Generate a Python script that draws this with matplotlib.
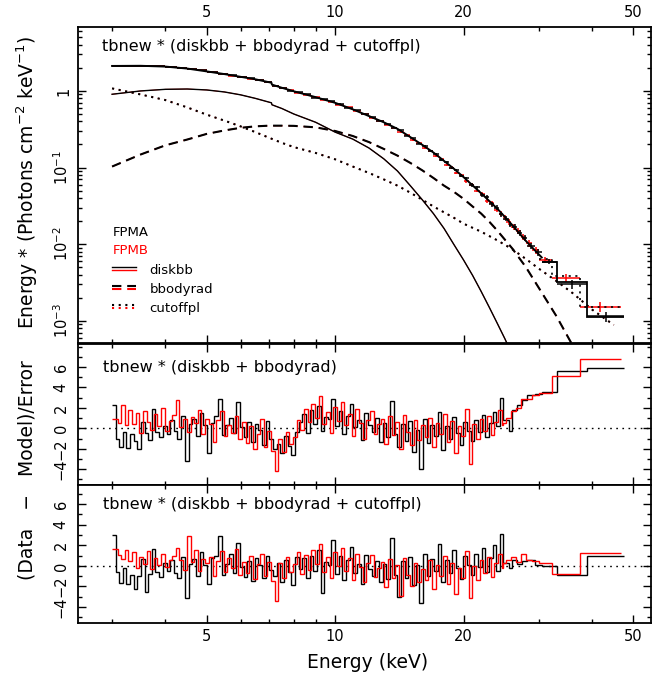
import matplotlib
matplotlib.use('Agg')
import matplotlib.pyplot as plt
import numpy as np
from matplotlib.ticker import FixedLocator, FixedFormatter, NullFormatter, LogLocator

plt.rcParams['font.family'] = ['DejaVu Sans']
plt.rcParams['mathtext.fontset'] = 'dejavusans'
plt.rcParams['lines.scale_dashes'] = False

# ---------------- axis ticks ----------------
x_major = [5, 10, 20, 50]
x_major_labels = ['5', '10', '20', '50']
x_minor = [3, 4, 6, 7, 8, 9, 30, 40]
spec_major = [1e-3, 1e-2, 1e-1, 1]
spec_major_labels = ['10$^{-3}$', '10$^{-2}$', '10$^{-1}$', '1']
res_major = [-4, -2, 0, 2, 4, 6]
res_major_labels = ['\u22124', '\u22122', '0', '2', '4', '6']
res_minor = [-5, -3, -1, 1, 3, 5, 7, 8]

# ---------------- model components (E*F) ----------------
diskbb_E = [3.0, 3.5, 4.0, 4.5, 5.0, 5.5, 6.0, 6.5, 7.09, 7.11, 7.5, 8.0, 9.0, 10, 11, 12, 13, 14, 15,
            16, 17, 18, 19, 20, 21, 22, 23, 24, 25, 26, 27]
diskbb_F = [0.905, 1.00, 1.05, 1.06, 1.03, 0.97, 0.89, 0.80, 0.70, 0.66, 0.59, 0.50, 0.39, 0.29, 0.235,
            0.18, 0.13, 0.090, 0.058, 0.038, 0.025, 0.016, 0.0098, 0.0062, 0.0039, 0.0024, 0.00148,
            0.00092, 0.00058, 0.00036, 0.00022]

bbody_E = [3.0, 3.5, 4.0, 4.5, 5.0, 5.5, 6.0, 6.5, 7.0, 7.5, 8.0, 9.0, 10, 11, 12, 13, 14, 15, 16, 17,
           18, 19, 20, 21, 22, 23, 24, 26, 28, 30, 33, 36, 38]
bbody_F = [0.103, 0.148, 0.195, 0.232, 0.275, 0.305, 0.33, 0.345, 0.352, 0.352, 0.35, 0.335, 0.30,
           0.258, 0.215, 0.175, 0.143, 0.115, 0.092, 0.073, 0.058, 0.048, 0.039, 0.031, 0.025, 0.0195,
           0.015, 0.0088, 0.0050, 0.0027, 0.00115, 0.00048, 0.00026]

cutoff_E = [3.0, 3.5, 4.0, 4.5, 5.0, 5.5, 6.0, 6.5, 7.0, 7.5, 8.0, 9.0, 10, 11, 12, 13, 14, 15, 16, 17,
            18, 19, 20, 22, 24, 26, 28, 30, 33, 36, 40, 45]
cutoff_F = [1.08, 0.90, 0.76, 0.61, 0.49, 0.41, 0.345, 0.29, 0.245, 0.21, 0.185, 0.155, 0.128, 0.103,
            0.085, 0.070, 0.058, 0.047, 0.038, 0.031, 0.026, 0.022, 0.0185, 0.0145, 0.0112, 0.0086,
            0.0064, 0.0048, 0.0033, 0.0023, 0.0014, 0.00088]

total_E = [3.0, 3.5, 4.0, 4.5, 5.0, 5.5, 6.0, 6.5, 7.09, 7.11, 7.5, 8.0, 9.0, 10, 11, 12, 13, 14, 15,
           16, 17, 18, 19, 20, 22, 24, 26, 28, 30.5]
total_F = [2.12, 2.13, 2.08, 1.96, 1.80, 1.66, 1.53, 1.42, 1.28, 1.21, 1.10, 0.99, 0.83, 0.70, 0.575,
           0.47, 0.39, 0.32, 0.25, 0.198, 0.157, 0.122, 0.096, 0.075, 0.046, 0.029, 0.0178, 0.0110, 0.0067]

# folded model in the widest high-energy bins
modelA_step_edges = [30.5, 33.1, 38.9, 47.6]
modelA_step_F = [0.0059, 0.0032, 0.00112]
modelB_step_edges = [30.0, 32.2, 37.5, 46.7]
modelB_step_F = [0.0063, 0.0038, 0.0015]

# ---------------- unfolded spectra (top panel) ----------------
spec_edges_low = [3.0, 3.2, 3.4, 3.6, 3.8, 4.0, 4.25, 4.5, 4.75, 5.0, 5.3, 5.6, 5.9, 6.2, 6.5, 6.8, 7.1,
                  7.4, 7.7, 8.0, 8.4, 8.8, 9.2, 9.6, 10.0, 10.5, 11.0, 11.5, 12.0, 12.5, 13.0, 13.5,
                  14.0, 14.5, 15.0, 15.5, 16.0, 16.5, 17.0, 17.5, 18.0, 18.5, 19.0, 19.5, 20.0, 20.6,
                  21.2, 21.8, 22.4, 23.0, 23.6, 24.2, 24.8]
fpma_edges_high = [25.5, 26.0, 26.7, 27.4, 28.2, 29.4, 30.5, 33.1, 38.9, 47.6]
fpmb_edges_high = [25.2, 25.9, 26.5, 27.2, 28.0, 29.0, 30.0, 32.2, 37.5, 46.7]

fpma_flux = [2.13, 2.11, 2.14, 2.11, 2.11,
             2.05, 2.01, 1.92, 1.87,
             1.75, 1.68, 1.61, 1.51, 1.46, 1.38, 1.32, 1.16, 1.10, 1.01,
             0.97, 0.90, 0.82, 0.79, 0.73,
             0.68, 0.60, 0.56, 0.495, 0.455, 0.405, 0.375, 0.33, 0.305, 0.26, 0.24, 0.205, 0.19,
             0.163, 0.15, 0.127, 0.118, 0.099, 0.093, 0.078,
             0.072, 0.059, 0.055, 0.044, 0.041, 0.033, 0.030, 0.0245,
             0.0215, 0.018, 0.0168, 0.0140, 0.0120, 0.0095, 0.0078, 0.0059, 0.0030, 0.00114]
fpmb_flux = [2.10, 2.13, 2.12, 2.13, 2.09,
             2.07, 1.99, 1.94, 1.85,
             1.77, 1.66, 1.59, 1.53, 1.44, 1.40, 1.30, 1.15, 1.08, 1.03,
             0.95, 0.89, 0.84, 0.77, 0.72,
             0.665, 0.615, 0.54, 0.505, 0.44, 0.41, 0.36, 0.33, 0.29, 0.262, 0.228, 0.208, 0.18,
             0.165, 0.14, 0.128, 0.109, 0.100, 0.085, 0.079,
             0.066, 0.060, 0.050, 0.045, 0.037, 0.034, 0.028, 0.025,
             0.0225, 0.0195, 0.0168, 0.0147, 0.0125, 0.0103, 0.0083, 0.0062, 0.00365, 0.00152]
flux_frac_err = [0.004, 0.004, 0.004, 0.004, 0.004, 0.004, 0.004, 0.004, 0.004, 0.005, 0.005, 0.005,
                 0.005, 0.005, 0.005, 0.005, 0.006, 0.006, 0.006, 0.006, 0.007, 0.007, 0.007, 0.008,
                 0.009, 0.010, 0.011, 0.012, 0.013, 0.014, 0.015, 0.016, 0.018, 0.019,
                 0.021, 0.023, 0.025, 0.027, 0.029, 0.031, 0.034, 0.037, 0.040, 0.043,
                 0.046, 0.049, 0.052, 0.056, 0.060, 0.064, 0.068, 0.072,
                 0.07, 0.08, 0.08, 0.09, 0.09, 0.10, 0.10, 0.08, 0.13, 0.15]

# ---------------- residuals (Data - Model)/Error ----------------
res_edges_fpma_low = [3.00, 3.06, 3.12, 3.18, 3.24, 3.30, 3.37, 3.44, 3.51, 3.58, 3.65, 3.72, 3.79, 3.87,
                      3.95, 4.03, 4.11, 4.19, 4.27, 4.36, 4.45, 4.54, 4.63, 4.72, 4.81, 4.91, 5.01, 5.11,
                      5.21, 5.31, 5.42, 5.53, 5.64, 5.75, 5.87, 5.99, 6.11, 6.23, 6.35, 6.48, 6.61, 6.74,
                      6.87, 7.01, 7.15, 7.29, 7.44, 7.59, 7.74, 7.89, 8.05, 8.21, 8.37, 8.54, 8.71, 8.88,
                      9.06, 9.24, 9.42, 9.61, 9.80, 10.00, 10.20, 10.40, 10.61, 10.82, 11.04, 11.26, 11.48,
                      11.71, 11.94, 12.18, 12.42, 12.67, 12.92, 13.18, 13.44, 13.71, 13.98, 14.26, 14.55,
                      14.84, 15.14, 15.44, 15.75, 16.06, 16.38, 16.71, 17.04, 17.38, 17.73, 18.08, 18.44,
                      18.81, 19.19, 19.57, 19.96, 20.36, 20.77, 21.19, 21.61, 22.04, 22.48, 22.93, 23.39,
                      23.86, 24.34, 24.80]
res_edges_fpmb_low = [3.00, 3.09, 3.15, 3.21, 3.27, 3.335, 3.405, 3.475, 3.545, 3.615, 3.685, 3.755, 3.83,
                      3.91, 3.99, 4.07, 4.15, 4.23, 4.315, 4.405, 4.495, 4.585, 4.675, 4.765, 4.86, 4.96,
                      5.06, 5.16, 5.26, 5.365, 5.475, 5.585, 5.695, 5.81, 5.93, 6.05, 6.17, 6.29, 6.415,
                      6.545, 6.675, 6.805, 6.94, 7.08, 7.22, 7.365, 7.515, 7.665, 7.815, 7.97, 8.13, 8.29,
                      8.455, 8.625, 8.795, 8.97, 9.15, 9.33, 9.515, 9.705, 9.90, 10.10, 10.30, 10.505,
                      10.715, 10.93, 11.15, 11.37, 11.595, 11.825, 12.06, 12.30, 12.545, 12.795, 13.05,
                      13.31, 13.575, 13.845, 14.12, 14.405, 14.695, 14.99, 15.29, 15.595, 15.905, 16.22,
                      16.545, 16.875, 17.21, 17.555, 17.905, 18.26, 18.625, 19.00, 19.38, 19.765, 20.16,
                      20.565, 20.98, 21.40, 21.825, 22.26, 22.705, 23.16, 23.625, 24.10, 24.57, 24.80]

# model: tbnew * (diskbb + bbodyrad)
res1_fpma = [2.3, -1.0, -1.8, -0.4, -1.9, -0.6, -1.2, -2.0, 0.6, -0.5, -1.1, 1.9, -0.4, -0.9, 0.2, -0.6,
             0.8, -0.3, -1.0, 1.2, -3.2, 0.4, 0.9, -0.8, 1.5, 0.3,
             -2.4, 0.5, 1.2, 2.9, -0.7, 0.3, 1.0, -0.5, 2.6, 0.1,
             -0.9, 0.6, -1.3, 0.4, -0.2, -1.6, 0.7, -1.0,
             -2.0, -1.5, -2.4, -0.8, -1.7, -2.6, -0.4,
             0.6, 1.4, -0.5, 1.8, 0.4, 2.2, -0.3, 1.1, 0.9, 2.9, 0.2,
             1.7, -0.6, 1.2, 2.4, 0.1, 0.8, -1.1, 1.5, 0.3, -0.4, 1.0,
             -1.3, 0.5, -0.9, 2.7, -0.6, -1.8, 0.4, -1.2, 0.7, -2.3, -0.2, -4.0, 0.9,
             -1.4, 0.3, -0.8, 1.6, -2.1, 0.2, -1.0, 1.1, -0.5, -1.6, 0.6, -0.3,
             -1.2, 0.8, -0.4, 1.3, -0.9, 0.5, 1.6, 0.2, 3.0,
             0.8, -0.3, 1.8, 2.3, 2.8, 3.3, 3.4, 3.6, 5.6, 5.95]
res1_fpmb = [0.9, 0.5, 2.3, 0.3, 1.8, 0.4, 1.5, -0.5, 1.7, 0.6, -0.2, 1.4, 0.2, 2.0, -0.3, 0.7,
             1.3, 2.8, 0.1, 0.9, -0.4, 1.1, 0.5, 1.8, -0.6, 0.9,
             0.4, -1.3, 0.8, 1.7, -0.8, 0.3, -0.5, 1.2, -1.0, 0.6,
             -1.4, 0.2, -2.0, -0.6, 0.9, -1.8, -0.3, -2.2,
             -4.2, -1.0, -2.3, -0.4, -1.5, -0.9, 0.8,
             -0.2, 1.9, 0.6, 2.4, 1.0, 3.2, 0.4, 1.6, -0.5, 2.1, 0.7,
             2.6, 0.3, 1.4, -0.8, 1.9, 0.5, -1.0, 0.8, 1.7, -0.6, 0.4,
             0.9, -1.5, 1.2, -0.7, 0.6, -2.0, 1.3, -0.4, -1.6, 0.8, -1.1, 0.3, -0.9,
             1.0, -1.8, 0.5, -0.6, 1.4, -1.3, 0.7, -2.4, 0.2, -0.8, 1.9, -3.5,
             0.4, -1.0, 0.9, -0.3, 1.2, -0.7, 0.6, 1.8, 0.3,
             0.5, 1.0, 1.7, 2.0, 2.9, 2.9, 3.3, 3.5, 5.1, 6.8]
# model: tbnew * (diskbb + bbodyrad + cutoffpl)
res2_fpma = [3.0, -0.6, -1.7, -0.2, -1.8, -0.9, -2.2, -1.0, 0.7, -2.5, -0.8, 1.6, -0.6, -1.1, 0.3, -0.5,
             0.6, -0.7, -1.2, 0.9, -3.1, 0.2, 0.7, -1.0, 1.3, 0.1,
             -1.8, 0.8, 1.0, 2.9, -0.9, 0.2, 1.2, -0.7, 2.2, -0.1,
             -1.1, 0.5, -1.5, 0.8, 0.1, -1.2, 1.0, -0.4,
             -1.0, 0.3, -1.6, 0.6, -0.6, -1.9, 0.9,
             -0.3, 0.8, -1.2, 1.0, -0.5, 1.5, -2.6, 0.4, 0.1, 2.5, -0.8,
             1.0, -1.4, 0.6, 1.8, -0.7, 0.2, -1.8, 1.1, -0.3, -1.0, 0.5,
             -1.6, 0.2, -1.3, 2.7, -0.9, -3.0, 0.5, -1.2, 0.9, -1.9, 0.1, -3.6, 1.2,
             -1.0, 0.7, -0.5, 2.1, -1.6, 0.6, -0.7, 1.5, -0.2, -1.3, 1.0, 0.1,
             -0.9, 1.2, -0.1, 1.7, -0.6, 0.8, 2.0, -0.5, 3.1,
             0.3, -0.2, 0.6, 0.2, 0.5, 0.6, 0.1, 0.0, -0.9, 1.0]
res2_fpmb = [1.6, 1.1, 0.7, 1.5, 0.5, 1.3, -0.2, 0.9, 0.2, 1.4, -0.3, 0.8, 0.1, 1.2, -0.1, 0.6,
             1.0, 1.7, 0.6, -0.4, 2.9, 0.4, 1.5, -0.5, 0.7, 0.3,
             0.9, -1.0, 0.5, 1.4, -0.6, 0.8, -0.2, 1.6, -0.9, 0.4,
             -0.7, 1.0, -1.3, 0.2, 1.2, -1.0, 0.4, -1.5,
             -3.4, 0.3, -1.2, 0.9, -0.6, 0.2, 1.3,
             -0.8, 1.1, -0.4, 1.5, 0.2, 2.1, -0.6, 0.9, -1.2, 1.3, 0.0,
             1.7, -0.5, 0.8, -1.4, 1.2, -0.1, -1.6, 0.3, 1.1, -1.1, -0.2,
             0.4, -2.1, 0.7, -1.2, 0.1, -2.9, 0.8, -0.9, -2.0, 0.3, -1.6, -0.3, -1.4,
             0.6, -2.2, 0.1, -1.0, 1.0, -1.8, 0.3, -2.7, -0.2, -1.2, 1.4, -3.1,
             0.0, -1.4, 0.6, -0.7, 0.9, -1.1, 0.3, 1.2, -0.2,
             0.3, 0.6, 0.9, 0.4, 1.2, 0.6, 0.5, 0.3, -0.8, 1.23]

# ---------------- text ----------------
det_names = ['FPMA', 'FPMB']
det_colors = ['black', 'red']
comp_names = ['diskbb', 'bbodyrad', 'cutoffpl']
panel_titles = ['tbnew * (diskbb + bbodyrad + cutoffpl)',
                'tbnew * (diskbb + bbodyrad)',
                'tbnew * (diskbb + bbodyrad + cutoffpl)']

# dash patterns in points (not scaled with line width)
DASH = (0, (6.75, 4.2))
DOT = (0, (1.5, 3.3))
comp_styles = ['-', DASH, DOT]
comp_lw = [1.0, 1.5, 1.5]

# ---------------- figure ----------------
fig = plt.figure(figsize=(6.6, 6.75), dpi=100)
FW, FH = 660.0, 675.0
L = 78.3 / FW
W = (651.0 - 78.3) / FW


def rect(top_px, bot_px):
    return [L, 1 - bot_px / FH, W, (bot_px - top_px) / FH]


ax1 = fig.add_axes(rect(26.7, 343.5))
ax2 = fig.add_axes(rect(343.5, 484.5))
ax3 = fig.add_axes(rect(484.5, 622.5))

for ax in (ax1, ax2, ax3):
    ax.set_xscale('log')
    ax.set_xlim(2.5, 55)
    ax.xaxis.set_major_locator(FixedLocator(x_major))
    ax.xaxis.set_major_formatter(FixedFormatter(x_major_labels))
    ax.xaxis.set_minor_locator(FixedLocator(x_minor))
    ax.xaxis.set_minor_formatter(NullFormatter())
    ax.tick_params(which='both', direction='in', top=True, right=True, width=1.0,
                   labelsize=10.5, colors='black')
    ax.tick_params(which='major', length=5.5)
    ax.tick_params(which='minor', length=3)
    for sp in ax.spines.values():
        sp.set_linewidth(1.3)

# ---- top panel ----
ax1.set_yscale('log')
ax1.set_ylim(5.04e-4, 6.9)
ax1.yaxis.set_major_locator(FixedLocator(spec_major))
ax1.yaxis.set_major_formatter(FixedFormatter(spec_major_labels))
ax1.yaxis.set_minor_locator(LogLocator(base=10, subs=(2, 3, 4, 5, 6, 7, 8, 9), numticks=50))
ax1.yaxis.set_minor_formatter(NullFormatter())
ax1.tick_params(axis='x', labeltop=True, labelbottom=False, pad=5)
ax1.tick_params(axis='y', labelrotation=90, pad=5)
for t in ax1.get_yticklabels():
    t.set_verticalalignment('center')

comps = [(diskbb_E, diskbb_F), (bbody_E, bbody_F), (cutoff_E, cutoff_F)]
# FPMB components (same shapes; hidden below the FPMA ones)
for (e, f), ls, lw in zip(comps, comp_styles, comp_lw):
    ax1.plot(e, f, color='red', ls=ls, lw=lw * 0.6, zorder=1.5)
for (e, f), ls, lw in zip(comps, comp_styles, comp_lw):
    ax1.plot(e, f, color='black', ls=ls, lw=lw, zorder=2)


def spec_bins(edges):
    e = np.asarray(edges)
    return np.sqrt(e[:-1] * e[1:]), e[:-1], e[1:]


for edges_high, flux, col, z in [(fpmb_edges_high, fpmb_flux, 'red', 3),
                                  (fpma_edges_high, fpma_flux, 'black', 4)]:
    cen, lo, hi = spec_bins(spec_edges_low + edges_high)
    f = np.asarray(flux)
    err = f * np.asarray(flux_frac_err)
    ax1.errorbar(cen, f, xerr=[cen - lo, hi - cen], yerr=err, fmt='none', ecolor=col,
                 elinewidth=1.1, capsize=0, zorder=z)

ax1.plot(total_E, total_F, color='black', lw=1.4, zorder=5)
ax1.stairs(modelA_step_F, modelA_step_edges, color='black', lw=1.3, baseline=None, zorder=5)
ax1.stairs(modelB_step_F, modelB_step_edges, color='black', lw=1.2, ls=DOT, baseline=None, zorder=5)

# legend (hand made, like the XSPEC/PGPLOT one)
ax1.text(0.060, 0.350, det_names[0], color=det_colors[0], fontsize=9.5, va='center',
         transform=ax1.transAxes)
ax1.text(0.060, 0.293, det_names[1], color=det_colors[1], fontsize=9.5, va='center',
         transform=ax1.transAxes)
for name, y, ls, lw in zip(comp_names, [0.229, 0.171, 0.109], comp_styles, comp_lw):
    ax1.plot([0.0583, 0.1002], [y + 0.011, y + 0.011], color='black', ls=ls, lw=lw,
             transform=ax1.transAxes)
    ax1.plot([0.0583, 0.1002], [y + 0.0015, y + 0.0015], color='red', ls=ls, lw=lw,
             transform=ax1.transAxes)
    ax1.text(0.124, y, name, fontsize=9.5, va='center', transform=ax1.transAxes)

# ---- residual panels ----
res_sets = [(ax2, res1_fpma, res1_fpmb, (-5.5, 8.3)),
            (ax3, res2_fpma, res2_fpmb, (-5.5, 7.9))]
for ax, ra, rb, yl in res_sets:
    ax.set_ylim(*yl)
    ax.yaxis.set_major_locator(FixedLocator(res_major))
    ax.yaxis.set_major_formatter(FixedFormatter(res_major_labels))
    ax.yaxis.set_minor_locator(FixedLocator(res_minor))
    ax.yaxis.set_minor_formatter(NullFormatter())
    ax.tick_params(axis='y', labelrotation=90, pad=7)
    for t in ax.get_yticklabels():
        t.set_verticalalignment('center')
    ax.axhline(0, color='black', lw=1.0, ls=(0, (1.2, 3.2)), zorder=1)
    ax.stairs(ra, res_edges_fpma_low + fpma_edges_high, color='black', lw=1.0, baseline=None, zorder=3)
    ax.stairs(rb, res_edges_fpmb_low + fpmb_edges_high, color='red', lw=1.0, baseline=None, zorder=4)

ax2.tick_params(axis='x', labelbottom=False, labeltop=False)
ax3.tick_params(axis='x', labelbottom=True, labeltop=False, pad=5)

# panel titles
ax1.text(0.041, 0.937, panel_titles[0], fontsize=11.5, va='center', transform=ax1.transAxes)
ax2.text(0.043, 0.831, panel_titles[1], fontsize=11.5, va='center', transform=ax2.transAxes)
ax3.text(0.043, 0.857, panel_titles[2], fontsize=11.5, va='center', transform=ax3.transAxes)

# axis labels
fig.text(27 / FW, 1 - 182.5 / FH, 'Energy * (Photons cm$^{-2}$ keV$^{-1}$)', rotation=90,
         ha='center', va='center', fontsize=13.5)
fig.text(27 / FW, 1 - 470 / FH, '(Data   \u2212   Model)/Error', rotation=90,
         ha='center', va='center', fontsize=13.5)
fig.text(368 / FW, 1 - 663 / FH, 'Energy (keV)', ha='center', va='center', fontsize=13.5)

fig.savefig('out.png', dpi=100)
